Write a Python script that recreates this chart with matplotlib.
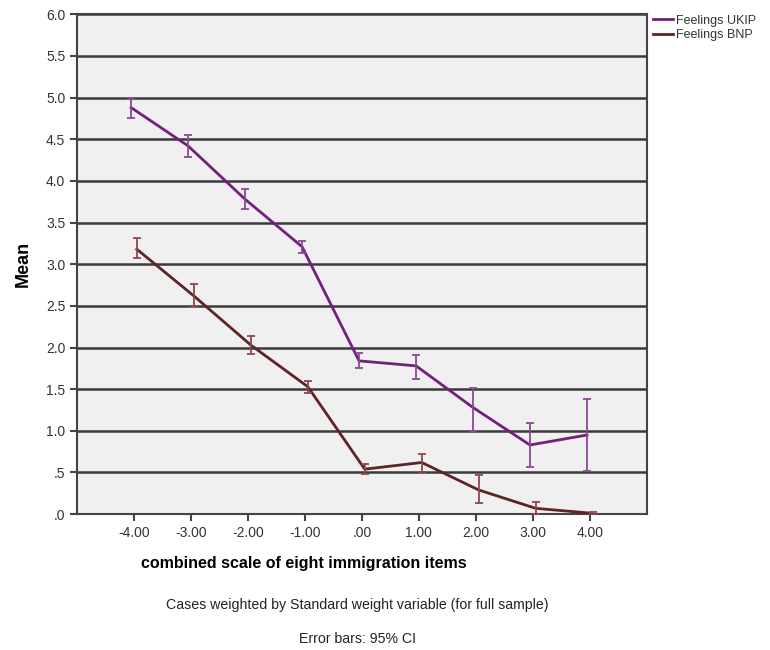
import numpy as np
import matplotlib.pyplot as plt

plt.rcParams['font.family'] = ['Liberation Sans', 'DejaVu Sans']

# combined scale values
scale = [-4, -3, -2, -1, 0, 1, 2, 3, 4]
tick_labels = ['-4.00', '-3.00', '-2.00', '-1.00', '.00', '1.00', '2.00', '3.00', '4.00']

ukip_mean = [4.88, 4.42, 3.78, 3.21, 1.84, 1.78, 1.28, 0.83, 0.95]
ukip_lo   = [4.76, 4.29, 3.66, 3.14, 1.75, 1.62, 1.00, 0.57, 0.52]
ukip_hi   = [5.00, 4.55, 3.90, 3.28, 1.93, 1.91, 1.51, 1.09, 1.38]

bnp_mean = [3.18, 2.62, 2.03, 1.53, 0.54, 0.62, 0.29, 0.07, 0.01]
bnp_lo   = [3.07, 2.50, 1.92, 1.45, 0.48, 0.51, 0.13, 0.00, 0.00]
bnp_hi   = [3.31, 2.76, 2.14, 1.60, 0.60, 0.72, 0.47, 0.14, 0.03]

ukip_col = '#72207c'
bnp_col = '#5e2326'

fig = plt.figure(figsize=(7.7, 6.5), dpi=100)
ax = fig.add_axes([0.1, 0.209, 0.74, 0.769])
ax.set_facecolor('#f0f0f0')

x = np.array(scale, dtype=float)
xu = x - 0.05
xb = x + 0.05

ax.plot(xu, ukip_mean, color=ukip_col, lw=2, label='Feelings UKIP', zorder=3)
ax.errorbar(xu, ukip_mean,
            yerr=[np.array(ukip_mean) - np.array(ukip_lo), np.array(ukip_hi) - np.array(ukip_mean)],
            fmt='none', ecolor='#8a4a90', elinewidth=1.3, capsize=3, capthick=1.3, zorder=3)
ax.plot(xb, bnp_mean, color=bnp_col, lw=2, label='Feelings BNP', zorder=3)
ax.errorbar(xb, bnp_mean,
            yerr=[np.array(bnp_mean) - np.array(bnp_lo), np.array(bnp_hi) - np.array(bnp_mean)],
            fmt='none', ecolor='#8a4a4e', elinewidth=1.3, capsize=3, capthick=1.3, zorder=3)

ax.set_xlim(-5, 5)
ax.set_ylim(0, 6)
ax.set_xticks(scale)
ax.set_xticklabels(tick_labels)
yt = np.arange(0, 6.01, 0.5)
ax.set_yticks(yt)
ax.set_yticklabels(['.0', '.5', '1.0', '1.5', '2.0', '2.5', '3.0', '3.5', '4.0', '4.5', '5.0', '5.5', '6.0'])
ax.yaxis.grid(True, color='#3a3a3a', lw=1.8, zorder=1)
ax.set_axisbelow(True)
ax.tick_params(axis='both', colors='#444444', labelcolor='#333333', labelsize=10,
               length=5, width=1.5, direction='out')
for s in ax.spines.values():
    s.set_color('#444444')
    s.set_linewidth(1.5)

ax.set_ylabel('Mean', fontsize=13, fontweight='bold', labelpad=10)

leg = fig.legend(loc='upper left', bbox_to_anchor=(0.841, 0.985), frameon=False,
                 fontsize=9, handlelength=1.6, handletextpad=0.3, labelspacing=0.2,
                 borderaxespad=0)
for t in leg.get_texts():
    t.set_color('#333333')

fig.text(0.395, 0.133, 'combined scale of eight immigration items', ha='center', va='center',
         fontsize=11.5, fontweight='bold')
fig.text(0.464, 0.069, 'Cases weighted by Standard weight variable (for full sample)',
         ha='center', va='center', fontsize=10.2, color='#222222')
fig.text(0.464, 0.017, 'Error bars: 95% CI', ha='center', va='center', fontsize=10.2,
         color='#222222')

fig.savefig('out.png', dpi=100)
